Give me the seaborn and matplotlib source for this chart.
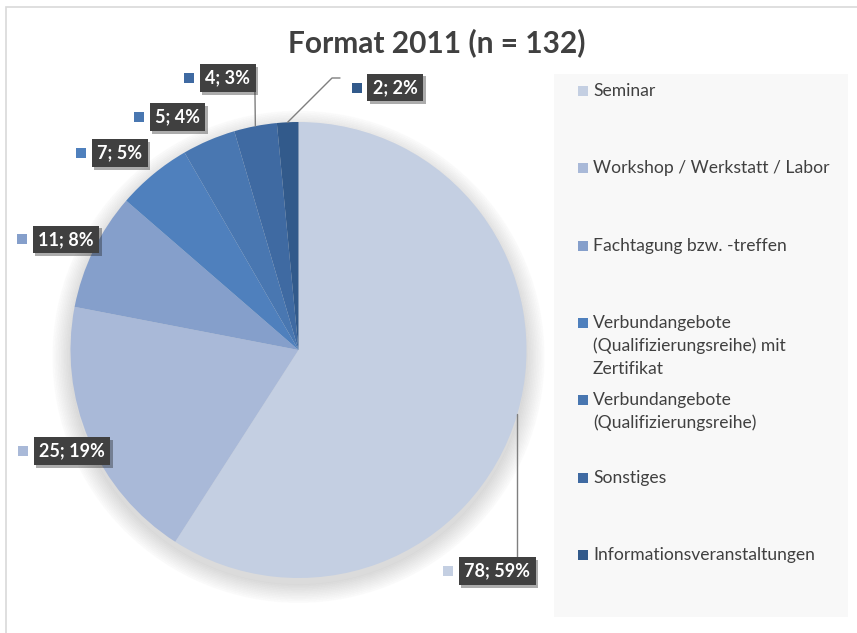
import numpy as np
import seaborn as sns
import matplotlib.pyplot as plt
from matplotlib.patches import Rectangle, Circle
from matplotlib import patheffects as pe

# Daten
kategorien = [
    "Seminar",
    "Workshop / Werkstatt / Labor",
    "Fachtagung bzw. -treffen",
    "Verbundangebote\n(Qualifizierungsreihe) mit\nZertifikat",
    "Verbundangebote\n(Qualifizierungsreihe)",
    "Sonstiges",
    "Informationsveranstaltungen",
]
anzahl = [78, 25, 11, 7, 5, 4, 2]
prozent = [59, 19, 8, 5, 4, 3, 2]
farben = ["#c4cfe2", "#a9b9d8", "#859fcb", "#4f80bd", "#4977b1", "#3f6aa2", "#325a8b"]

# Lage der Beschriftungen (linke Kante der Box, Mitte) in Kreiskoordinaten
label_pos = [(0.700, -0.969), (-1.164, -0.443), (-1.169, 0.485), (-0.910, 0.864),
             (-0.656, 1.022), (-0.436, 1.193), (0.300, 1.151)]

sns.set_theme(style="white")
plt.rcParams['font.family'] = ['Lato', 'DejaVu Sans']

fig = plt.figure(figsize=(8.57, 6.33), dpi=100)
W, H = 857, 633
R = 228.0
L = 1.3
cx, cy = 298.5, 350
ax = fig.add_axes([(cx - L * R) / W, (H - cy - L * R) / H, 2 * L * R / W, 2 * L * R / H])

# Rahmen
fig.patches.append(Rectangle((6 / W, -0.1), 1.2, (H - 7) / H + 0.1, transform=fig.transFigure,
                             fill=False, edgecolor="#d9d9d9", linewidth=1.2))

# Schatten
for k in range(12):
    ax.add_patch(Circle((0.0, -0.03), 1.0 + 0.007 * k, color="black", alpha=0.013, zorder=0))

palette = sns.color_palette(farben)
wedges, _ = ax.pie(anzahl, colors=palette, startangle=90, counterclock=False, radius=1,
                   wedgeprops=dict(linewidth=0))
ax.set_xlim(-L, L)
ax.set_ylim(-L, L)
ax.axis("off")

px = 1.0 / R
for i, (w, n, p) in enumerate(zip(wedges, anzahl, prozent)):
    bx, by = label_pos[i]
    t = ax.text(bx + 6 * px, by, f"{n}; {p}%", ha="left", va="center", color="white",
                fontsize=13, fontweight="bold", zorder=5,
                bbox=dict(boxstyle="square,pad=0.3", facecolor="#404040", edgecolor="none"))
    t.get_bbox_patch().set_path_effects([pe.SimplePatchShadow(offset=(2, -2), alpha=0.35), pe.Normal()])
    ax.add_patch(Rectangle((bx - 15 * px, by - 5 * px), 10 * px, 10 * px, color=farben[i], zorder=5, lw=0))

# Fuehrungslinien
def rand(w):
    a = np.deg2rad((w.theta1 + w.theta2) / 2)
    return np.cos(a), np.sin(a)

x0, y0 = rand(wedges[0])
ax.plot([x0, x0], [y0, label_pos[0][1] + 14 * px], color="#7f7f7f", lw=1, zorder=4)
x5, y5 = rand(wedges[5])
ax.plot([x5, -0.191], [y5, label_pos[5][1] - 14 * px], color="#7f7f7f", lw=1, zorder=4)
x6, y6 = rand(wedges[6])
ax.plot([x6, 0.147, 0.182], [y6, 1.193, 1.193], color="#7f7f7f", lw=1, zorder=4)

# Titel
fig.text(437 / W, 1 - 43 / H, "Format 2011 (n = 132)", ha="center", va="center",
         fontsize=21.5, fontweight="bold", color="#404040")

# Legende
lax = fig.add_axes([554 / W, (H - 617) / H, 294 / W, 543 / H])
lax.set_xlim(554, 848)
lax.set_ylim(617, 74)
lax.set_facecolor("#f8f8f8")
for s in lax.spines.values():
    s.set_visible(False)
lax.set_xticks([])
lax.set_yticks([])
for i, lab in enumerate(kategorien):
    y = 91 + 77.3 * i
    lax.add_patch(Rectangle((578, y - 5), 10, 10, color=farben[i], lw=0))
    for k, line in enumerate(lab.split("\n")):
        lax.text(593, y + 23 * k, line, ha="left", va="center", fontsize=12.6, color="#404040")

fig.savefig("out.png", dpi=100)
